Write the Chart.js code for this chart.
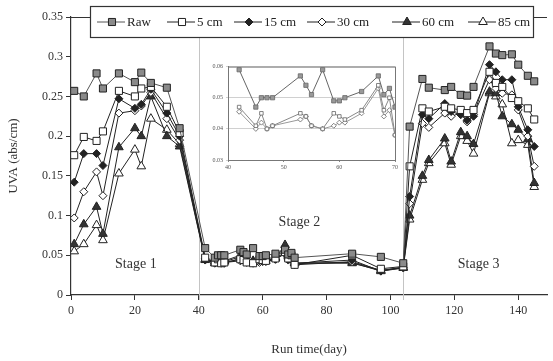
<!DOCTYPE html>
<html>
<head>
<meta charset="utf-8">
<script src="https://cdn.jsdelivr.net/npm/chart.js@4.4.1/dist/chart.umd.min.js"></script>
<style>
    html, body { margin: 0; padding: 0; background: #fff; }
    #wrap { position: relative; width: 553px; height: 361px; overflow: hidden; }
    #main { position: absolute; left: 0; top: 0; }
    #inset { position: absolute; left: 203px; top: 60px; }
</style>
</head>
<body>
<div id="wrap">
    <canvas id="main" width="553" height="361"></canvas>
    <canvas id="inset" width="197" height="112"></canvas>
</div>
<script>
// sampling days (stage 1 | stage 2 | stage 3)
const days = [1, 4, 8, 10, 15, 20, 22, 25, 30, 34,
    42, 45, 46, 47, 48, 53, 54, 55, 57, 59, 60, 61, 64, 67, 68, 69, 70, 88, 97, 104,
    106, 110, 112, 117, 119, 122, 124, 126, 131, 133, 135, 138, 140, 143, 145];

const raw = [0.257, 0.250, 0.279, 0.260, 0.279, 0.268, 0.280, 0.267, 0.261, 0.210,
    0.059, 0.047, 0.050, 0.050, 0.050, 0.057, 0.054, 0.051, 0.059, 0.049, 0.049, 0.050, 0.052, 0.057, 0.051, 0.053, 0.047, 0.052, 0.048, 0.040,
    0.212, 0.272, 0.261, 0.258, 0.262, 0.252, 0.251, 0.262, 0.313, 0.304, 0.302, 0.303, 0.290, 0.276, 0.269];
const cm5 = [0.176, 0.199, 0.194, 0.206, 0.257, 0.250, 0.260, 0.262, 0.237, 0.204,
    0.047, 0.041, 0.045, 0.040, 0.041, 0.045, 0.044, 0.041, 0.040, 0.045, 0.044, 0.043, 0.046, 0.054, 0.046, 0.050, 0.038, 0.050, 0.033, 0.036,
    0.162, 0.235, 0.231, 0.237, 0.235, 0.233, 0.229, 0.233, 0.281, 0.267, 0.262, 0.248, 0.244, 0.235, 0.221];
const cm15 = [0.142, 0.178, 0.178, 0.163, 0.247, 0.235, 0.240, 0.259, 0.229, 0.200,
    0.044, 0.041, 0.043, 0.041, 0.040, 0.046, 0.045, 0.042, 0.041, 0.043, 0.043, 0.044, 0.045, 0.052, 0.045, 0.045, 0.040, 0.044, 0.030, 0.035,
    0.124, 0.227, 0.222, 0.241, 0.231, 0.227, 0.220, 0.225, 0.290, 0.281, 0.271, 0.271, 0.237, 0.208, 0.187];
const cm30 = [0.097, 0.130, 0.155, 0.125, 0.229, 0.232, 0.238, 0.255, 0.222, 0.195,
    0.0455, 0.040, 0.042, 0.040, 0.041, 0.043, 0.044, 0.041, 0.040, 0.041, 0.042, 0.042, 0.045, 0.053, 0.044, 0.046, 0.038, 0.042, 0.031, 0.034,
    0.115, 0.216, 0.211, 0.229, 0.225, 0.229, 0.218, 0.227, 0.271, 0.260, 0.254, 0.252, 0.233, 0.200, 0.162];
const cm60 = [0.064, 0.089, 0.111, 0.077, 0.186, 0.210, 0.200, 0.250, 0.200, 0.187,
    0.044, 0.042, 0.040, 0.042, 0.042, 0.048, 0.046, 0.044, 0.043, 0.045, 0.045, 0.043, 0.046, 0.063, 0.050, 0.044, 0.040, 0.040, 0.031, 0.035,
    0.100, 0.150, 0.170, 0.197, 0.168, 0.205, 0.200, 0.190, 0.256, 0.254, 0.225, 0.215, 0.208, 0.196, 0.141];
const cm85 = [0.055, 0.064, 0.088, 0.069, 0.153, 0.183, 0.162, 0.222, 0.208, 0.190,
    0.045, 0.040, 0.041, 0.042, 0.043, 0.050, 0.047, 0.045, 0.042, 0.044, 0.044, 0.046, 0.047, 0.058, 0.049, 0.045, 0.040, 0.041, 0.030, 0.034,
    0.095, 0.145, 0.166, 0.191, 0.164, 0.200, 0.194, 0.178, 0.254, 0.250, 0.240, 0.191, 0.195, 0.189, 0.136];

const yTicks = [0, 0.05, 0.1, 0.15, 0.2, 0.25, 0.3, 0.35];
const xTicks = [0, 20, 40, 60, 80, 100, 120, 140];
const stageBounds = [40, 104];
const stageLabels = [
    { text: 'Stage 1', day: 20.3, uva: 0.038 },
    { text: 'Stage 2', day: 71.5, uva: 0.091 },
    { text: 'Stage 3', day: 127.6, uva: 0.038 }
];
const insetRange = [40, 70];

const serif = "'Liberation Serif', 'DejaVu Serif', serif";

function pts(vals, lo, hi) {
    const out = [];
    days.forEach((d, i) => {
        if (lo === undefined || (d >= lo && d <= hi)) out.push({ x: d, y: vals[i] });
    });
    return out;
}

const series = [
    { label: 'Raw', vals: raw, style: 'rect', fill: '#8a8a8a', line: '#555', r: 5 },
    { label: '5 cm', vals: cm5, style: 'rect', fill: '#fff', line: '#222', r: 5 },
    { label: '15 cm', vals: cm15, style: 'rectRot', fill: '#222', line: '#222', r: 4 },
    { label: '30 cm', vals: cm30, style: 'rectRot', fill: '#fff', line: '#222', r: 4 },
    { label: '60 cm', vals: cm60, style: 'triangle', fill: '#333', line: '#222', r: 5 },
    { label: '85 cm', vals: cm85, style: 'triangle', fill: '#fff', line: '#222', r: 5 }
];

const mainDatasets = series.map(s => ({
    label: s.label,
    data: pts(s.vals),
    borderColor: s.line,
    borderWidth: 1,
    backgroundColor: s.fill,
    pointStyle: s.style,
    pointRadius: s.r,
    pointBackgroundColor: s.fill,
    pointBorderColor: '#222',
    pointBorderWidth: 1,
    tension: 0
}));

// stage separators, frame top, stage texts, boxed legend
const decor = {
    id: 'decor',
    beforeDatasetsDraw(chart) {
        const { ctx, chartArea, scales } = chart;
        ctx.save();
        ctx.strokeStyle = '#c4c4c4';
        ctx.lineWidth = 1;
        stageBounds.forEach(d => {
            const x = Math.round(scales.x.getPixelForValue(d)) + 0.5;
            ctx.beginPath();
            ctx.moveTo(x, chartArea.top);
            ctx.lineTo(x, chartArea.bottom + 5);
            ctx.stroke();
        });
        ctx.strokeStyle = '#333';
        ctx.beginPath();
        ctx.moveTo(chartArea.left, chartArea.top + 0.5);
        ctx.lineTo(chartArea.right, chartArea.top + 0.5);
        ctx.stroke();
        ctx.fillStyle = '#333';
        ctx.font = '14px ' + serif;
        ctx.textAlign = 'center';
        ctx.textBaseline = 'middle';
        stageLabels.forEach(l => {
            ctx.fillText(l.text, scales.x.getPixelForValue(l.day), scales.y.getPixelForValue(l.uva));
        });
        ctx.restore();
    },
    afterDraw(chart) {
        const ctx = chart.ctx;
        ctx.save();
        ctx.fillStyle = '#fff';
        ctx.fillRect(90, 6, 443, 31);
        ctx.strokeStyle = '#333';
        ctx.lineWidth = 1.2;
        ctx.strokeRect(90.5, 6.5, 443, 31);
        const cx = [112, 182, 249, 322, 407, 483];
        const y = 22;
        ctx.font = '13px ' + serif;
        ctx.textBaseline = 'middle';
        ctx.textAlign = 'left';
        series.forEach((s, i) => {
            ctx.strokeStyle = s.line;
            ctx.lineWidth = 1;
            ctx.beginPath();
            ctx.moveTo(cx[i] - 15, y);
            ctx.lineTo(cx[i] + 13, y);
            ctx.stroke();
            ctx.fillStyle = s.fill;
            ctx.strokeStyle = '#222';
            Chart.helpers.drawPoint(ctx, { pointStyle: s.style, radius: s.r, rotation: 0, borderWidth: 1 }, cx[i], y);
            ctx.fillStyle = '#222';
            ctx.fillText(s.label, cx[i] + 15, y + 1);
        });
        ctx.restore();
    }
};

new Chart(document.getElementById('main').getContext('2d'), {
    type: 'line',
    data: { datasets: mainDatasets },
    options: {
        responsive: false,
        animation: false,
        layout: { padding: { left: 6, right: 0, top: 17, bottom: 4 } },
        plugins: { legend: { display: false }, tooltip: { enabled: false } },
        scales: {
            x: {
                type: 'linear',
                min: 0,
                max: 149,
                afterBuildTicks: scale => { scale.ticks = xTicks.map(v => ({ value: v })); },
                afterFit: scale => { scale.height = 62; },
                grid: { drawOnChartArea: false, tickLength: 5, color: '#333' },
                border: { color: '#333', width: 1.2 },
                ticks: { color: '#333', font: { family: serif, size: 12 }, padding: 4, maxRotation: 0 },
                title: { display: true, text: 'Run time(day)', color: '#333', font: { family: serif, size: 13 }, padding: { top: 0, bottom: 0 } }
            },
            y: {
                min: 0,
                max: 0.35,
                afterBuildTicks: scale => { scale.ticks = yTicks.map(v => ({ value: v })); },
                afterFit: scale => { scale.width = 65; },
                grid: { drawOnChartArea: false, tickLength: 5, color: '#333' },
                border: { color: '#333', width: 1.2 },
                ticks: { color: '#333', font: { family: serif, size: 12 }, padding: 3, callback: v => String(+v.toFixed(2)) },
                title: { display: true, text: 'UVA (abs/cm)', color: '#333', font: { family: serif, size: 13 }, padding: { top: 0, bottom: 0 } }
            }
        }
    },
    plugins: [decor]
});

// inset: stage 2 close-up, days 40-70
const insetSeries = [series[0], series[1], series[3]];
const insetColors = ['#666', '#888', '#999'];

const insetFrame = {
    id: 'insetFrame',
    beforeDraw(chart) {
        const { ctx, chartArea } = chart;
        ctx.save();
        ctx.fillStyle = '#fff';
        ctx.fillRect(0, 0, chart.width, chart.height);
        ctx.restore();
    },
    afterDraw(chart) {
        const { ctx, chartArea } = chart;
        ctx.save();
        ctx.strokeStyle = '#777';
        ctx.lineWidth = 1;
        ctx.strokeRect(chartArea.left + 0.5, chartArea.top + 0.5, chartArea.width, chartArea.height);
        ctx.restore();
    }
};

new Chart(document.getElementById('inset').getContext('2d'), {
    type: 'line',
    data: {
        datasets: insetSeries.map((s, i) => ({
            label: s.label,
            data: pts(s.vals, insetRange[0], insetRange[1]),
            borderColor: insetColors[i],
            borderWidth: 1,
            pointStyle: s.style,
            pointRadius: i === 0 ? 3 : 2.5,
            pointBackgroundColor: i === 0 ? '#999' : '#fff',
            pointBorderColor: '#666',
            pointBorderWidth: 0.8,
            tension: 0
        }))
    },
    options: {
        responsive: false,
        animation: false,
        layout: { padding: { left: 0, right: 5, top: 6, bottom: 0 } },
        plugins: { legend: { display: false }, tooltip: { enabled: false } },
        scales: {
            x: {
                type: 'linear',
                min: 40,
                max: 70,
                afterBuildTicks: scale => { scale.ticks = [40, 50, 60, 70].map(v => ({ value: v })); },
                afterFit: scale => { scale.height = 12; },
                grid: { drawOnChartArea: false, tickLength: 2, color: '#888' },
                border: { color: '#777' },
                ticks: { color: '#555', font: { family: serif, size: 6 }, padding: 2, maxRotation: 0 }
            },
            y: {
                min: 0.03,
                max: 0.06,
                afterBuildTicks: scale => { scale.ticks = [0.03, 0.04, 0.05, 0.06].map(v => ({ value: v })); },
                afterFit: scale => { scale.width = 25; },
                grid: { color: '#d0d0d0', tickLength: 2 },
                border: { color: '#777' },
                ticks: { color: '#555', font: { family: serif, size: 6 }, padding: 3, callback: v => v.toFixed(2) }
            }
        }
    },
    plugins: [insetFrame]
});
</script>
</body>
</html>
